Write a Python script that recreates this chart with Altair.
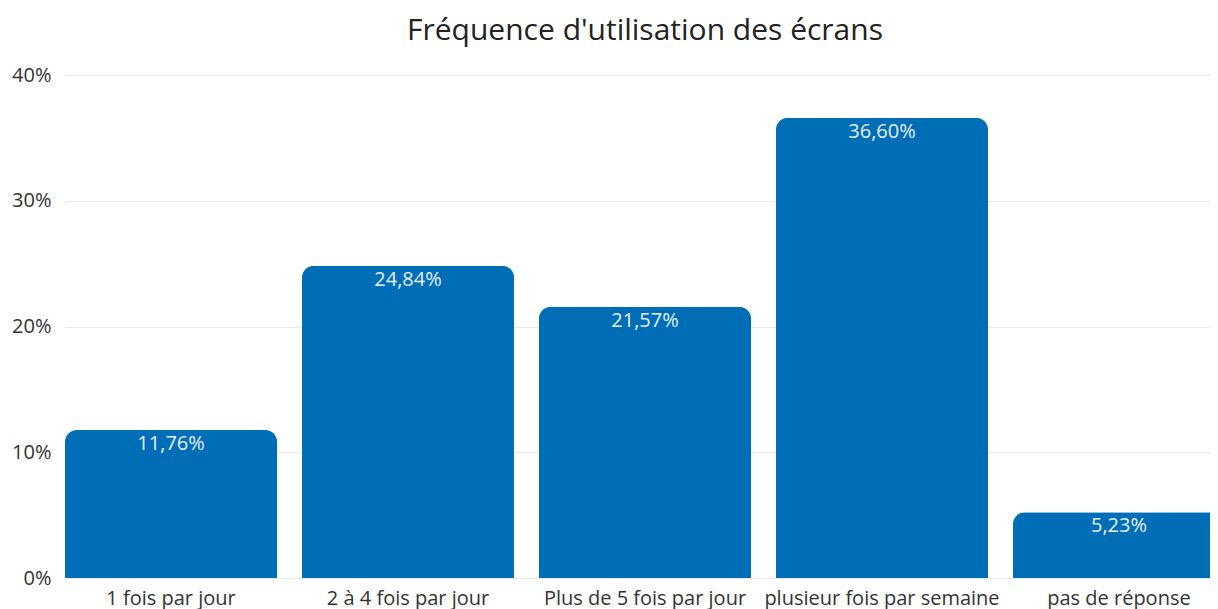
import altair as alt
import pandas as pd

categories = ["1 fois par jour", "2 à 4 fois par jour", "Plus de 5 fois par jour",
              "plusieur fois par semaine", "pas de réponse"]
values = [11.76, 24.84, 21.57, 36.60, 5.23]

df = pd.DataFrame({"cat": categories, "v": values})

FONT = "Open Sans"
BLUE = "#006eb6"

base = alt.Chart(df).encode(
    x=alt.X("cat:N", sort=None, title=None,
            scale=alt.Scale(paddingInner=0.105, paddingOuter=0),
            axis=alt.Axis(labelAngle=0, labelFontSize=20, labelColor="#333333",
                          labelFont=FONT, labelPadding=10, ticks=False, domain=False,
                          grid=False, labelLimit=400)),
    y=alt.Y("v:Q", title=None,
            scale=alt.Scale(domain=[0, 40], nice=False),
            axis=alt.Axis(values=[0, 10, 20, 30, 40], labelExpr="datum.value + '%'",
                          labelFontSize=20, labelColor="#333333", labelFont=FONT,
                          labelPadding=14, ticks=False, domain=False,
                          gridColor="#e8e8e8", gridWidth=1)),
)

bars = base.mark_bar(color=BLUE, cornerRadiusTopLeft=12, cornerRadiusTopRight=12)

labels = base.transform_calculate(
    lbl="replace(format(datum.v, '.2f'), '.', ',') + '%'"
).mark_text(baseline="middle", dy=14, fontSize=20, font=FONT, color="#e6eef7").encode(
    text="lbl:N"
)

chart = (bars + labels).properties(
    width=1160, height=503,
    title=alt.TitleParams("Fréquence d'utilisation des écrans", font=FONT, fontSize=30,
                          fontWeight="normal", color="#222222", anchor="middle", offset=19),
    autosize=alt.AutoSizeParams(type="none"),
    padding={"left": 57, "top": 67, "right": -15, "bottom": 31},
).configure_view(stroke=None)

chart.save("out.html", embed_options={"renderer": "svg", "actions": False})
